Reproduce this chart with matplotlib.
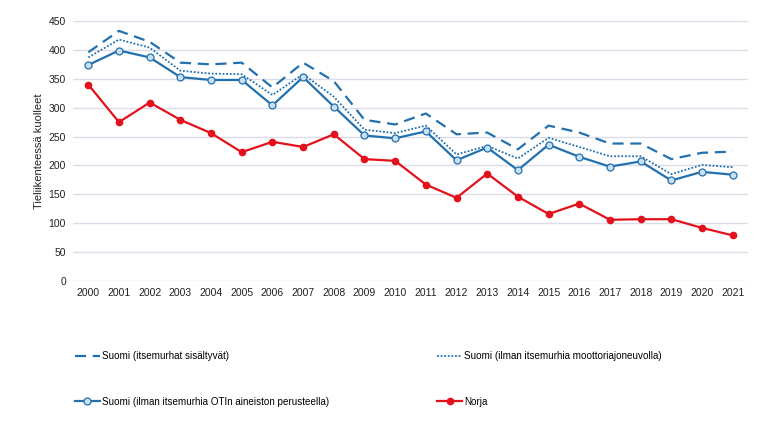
import numpy as np
import matplotlib.pyplot as plt

plt.rcParams['font.family'] = ['Liberation Sans', 'DejaVu Sans']

years = [str(y) for y in range(2000, 2022)]

suomi_incl = [396, 433, 414, 378, 375, 378, 335, 378, 346, 279, 271, 290,
              254, 257, 228, 269, 257, 238, 238, 211, 222, 224]
suomi_ilman_moottori = [387, 418, 404, 364, 359, 358, 322, 358, 319, 262, 256, 269,
                        219, 234, 212, 248, 232, 216, 216, 185, 201, 197]
suomi_ilman_oti = [374, 399, 387, 353, 348, 348, 304, 353, 302, 252, 247, 259,
                   209, 231, 192, 236, 215, 198, 207, 174, 189, 184]
norja = [340, 275, 309, 279, 256, 223, 241, 232, 254, 211, 208, 167,
         144, 186, 146, 116, 134, 106, 107, 107, 92, 79]

blue = '#2270AE'
light_blue = '#C9DFF2'
red = '#E3111B'

fig = plt.figure(figsize=(7.68, 4.21), dpi=100)
ax = fig.add_axes([0.095, 0.3325, 0.879, 0.6175])

x = np.arange(len(years))
l1, = ax.plot(x, suomi_incl, color=blue, lw=1.6, ls=(0, (5, 3)),
              label='Suomi (itsemurhat sisältyvät)')
l2, = ax.plot(x, suomi_ilman_moottori, color=blue, lw=1.3, ls=(0, (1, 1)),
              label='Suomi (ilman itsemurhia moottoriajoneuvolla)')
l3, = ax.plot(x, suomi_ilman_oti, color=blue, lw=1.6, marker='o', ms=5,
              mfc=light_blue, mec=blue, mew=0.9,
              label='Suomi (ilman itsemurhia OTIn aineiston perusteella)')
l4, = ax.plot(x, norja, color=red, lw=1.6, marker='o', ms=4.5,
              mfc=red, mec=red, label='Norja')

ax.set_xlim(-0.5, len(years) - 0.5)
ax.set_ylim(0, 450)
ax.set_yticks(np.arange(0, 451, 50))
ax.set_xticks(x)
ax.set_xticklabels(years)
ax.tick_params(axis='both', length=0, labelsize=7.5, colors='#222222')
ax.tick_params(axis='y', pad=5)
ax.tick_params(axis='x', pad=5)
ax.grid(axis='y', color='#DCDCEA', lw=1)
ax.set_axisbelow(True)
for s in ax.spines.values():
    s.set_visible(False)
ax.set_ylabel('Tieliikenteessä kuolleet', fontsize=8, color='#222222', labelpad=3)

# legend: column-major fill -> row 1: dashed, dotted; row 2: solid, Norja
fig.legend(handles=[l1, l3, l2, l4], ncol=2, loc='upper left',
           bbox_to_anchor=(0.0977, 0.166), frameon=False, fontsize=7.1,
           handlelength=2.5, handletextpad=0.2, columnspacing=11.0,
           labelspacing=3.6, borderaxespad=0, borderpad=0)

fig.savefig('out.png', dpi=100)
